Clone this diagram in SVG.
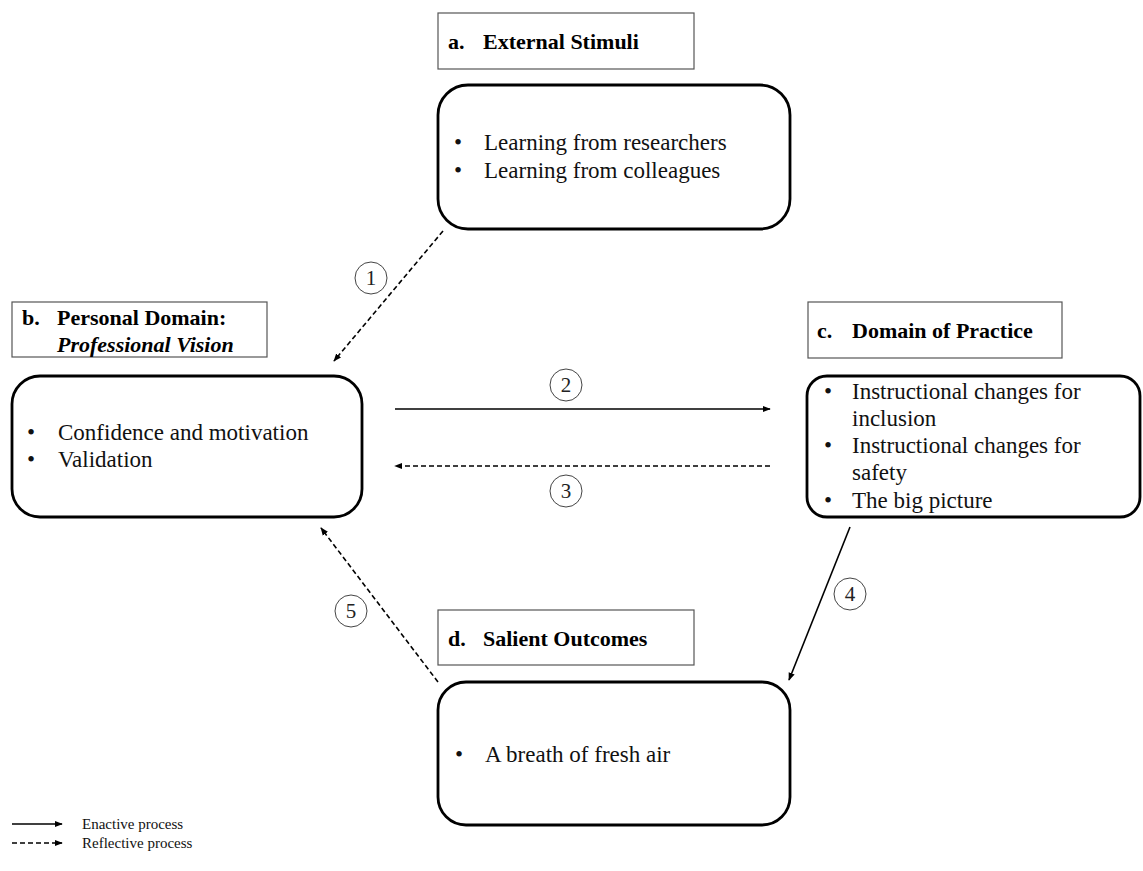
<svg xmlns="http://www.w3.org/2000/svg" width="1143" height="871" viewBox="0 0 1143 871">
<style>
.lbl{fill:#fff;stroke:#555;stroke-width:1.2}
.body{fill:#fff;stroke:#000;stroke-width:2.8}
.t{font-family:"Liberation Serif","Times New Roman",serif;font-size:23px;fill:#111}
.h{font-family:"Liberation Serif","Times New Roman",serif;font-size:22px;font-weight:bold;fill:#000}
.lg{font-family:"Liberation Serif","Times New Roman",serif;font-size:15px;fill:#111}
.num{font-family:"Liberation Serif","Times New Roman",serif;font-size:21px;fill:#222;text-anchor:middle}
.circ{fill:none;stroke:#444;stroke-width:1}
.solid{stroke:#000;stroke-width:1.6;fill:none}
.dash{stroke:#000;stroke-width:1.6;fill:none;stroke-dasharray:5,3}
</style>
<defs>
<marker id="ah" viewBox="0 0 10 10" refX="9" refY="5" markerWidth="5" markerHeight="5" orient="auto" markerUnits="strokeWidth">
<path d="M0,1 L10,5 L0,9 Z" fill="#000"/>
</marker>
</defs>
<rect width="1143" height="871" fill="#fff"/>

<g id="node-a">
<rect class="lbl" x="438" y="13" width="256" height="56"/>
<text class="h" x="448" y="49">a.</text>
<text class="h" x="483" y="49">External Stimuli</text>
<rect class="body" x="438" y="85" width="352" height="144" rx="30"/>
<text class="t" x="454" y="150">•</text>
<text class="t" x="484" y="150">Learning from researchers</text>
<text class="t" x="454" y="178">•</text>
<text class="t" x="484" y="178">Learning from colleagues</text>
</g>

<g id="node-b">
<rect class="lbl" x="12" y="302" width="255" height="55"/>
<text class="h" x="22" y="325">b.</text>
<text class="h" x="57" y="325">Personal Domain:</text>
<text class="h" x="57" y="352" font-style="italic">Professional Vision</text>
<rect class="body" x="12" y="376" width="350" height="141" rx="28"/>
<text class="t" x="27" y="440">•</text>
<text class="t" x="58" y="440">Confidence and motivation</text>
<text class="t" x="27" y="467">•</text>
<text class="t" x="58" y="467">Validation</text>
</g>

<g id="node-c">
<rect class="lbl" x="808" y="302" width="254" height="56"/>
<text class="h" x="817" y="338">c.</text>
<text class="h" x="852" y="338">Domain of Practice</text>
<rect class="body" x="807" y="376" width="333" height="141" rx="20"/>
<text class="t" x="824" y="399">•</text>
<text class="t" x="852" y="399">Instructional changes for</text>
<text class="t" x="852" y="426">inclusion</text>
<text class="t" x="824" y="453">•</text>
<text class="t" x="852" y="453">Instructional changes for</text>
<text class="t" x="852" y="480">safety</text>
<text class="t" x="824" y="508">•</text>
<text class="t" x="852" y="508">The big picture</text>
</g>

<g id="node-d">
<rect class="lbl" x="438" y="610" width="256" height="55"/>
<text class="h" x="448" y="646">d.</text>
<text class="h" x="483" y="646">Salient Outcomes</text>
<rect class="body" x="438" y="682" width="352" height="143" rx="28"/>
<text class="t" x="455" y="762">•</text>
<text class="t" x="485" y="762">A breath of fresh air</text>
</g>

<g id="connectors">
<line class="dash" x1="443" y1="231" x2="334" y2="361" marker-end="url(#ah)"/>
<line class="solid" x1="395" y1="409" x2="770" y2="409" marker-end="url(#ah)"/>
<line class="dash" x1="770" y1="466" x2="395" y2="466" marker-end="url(#ah)"/>
<line class="solid" x1="850" y1="527" x2="789" y2="680" marker-end="url(#ah)"/>
<line class="dash" x1="438" y1="682" x2="321" y2="528" marker-end="url(#ah)"/>
<circle class="circ" cx="371" cy="278" r="16"/>
<text class="num" x="371" y="285">1</text>
<circle class="circ" cx="566" cy="385" r="16"/>
<text class="num" x="566" y="392">2</text>
<circle class="circ" cx="566" cy="491" r="16"/>
<text class="num" x="566" y="498">3</text>
<circle class="circ" cx="850" cy="594" r="16"/>
<text class="num" x="850" y="601">4</text>
<circle class="circ" cx="351" cy="611" r="16"/>
<text class="num" x="351" y="618">5</text>
</g>

<g id="legend">
<line class="solid" x1="12" y1="824" x2="62" y2="824" marker-end="url(#ah)"/>
<text class="lg" x="82" y="829">Enactive process</text>
<line class="dash" x1="12" y1="843" x2="62" y2="843" marker-end="url(#ah)"/>
<text class="lg" x="82" y="848">Reflective process</text>
</g>
</svg>
